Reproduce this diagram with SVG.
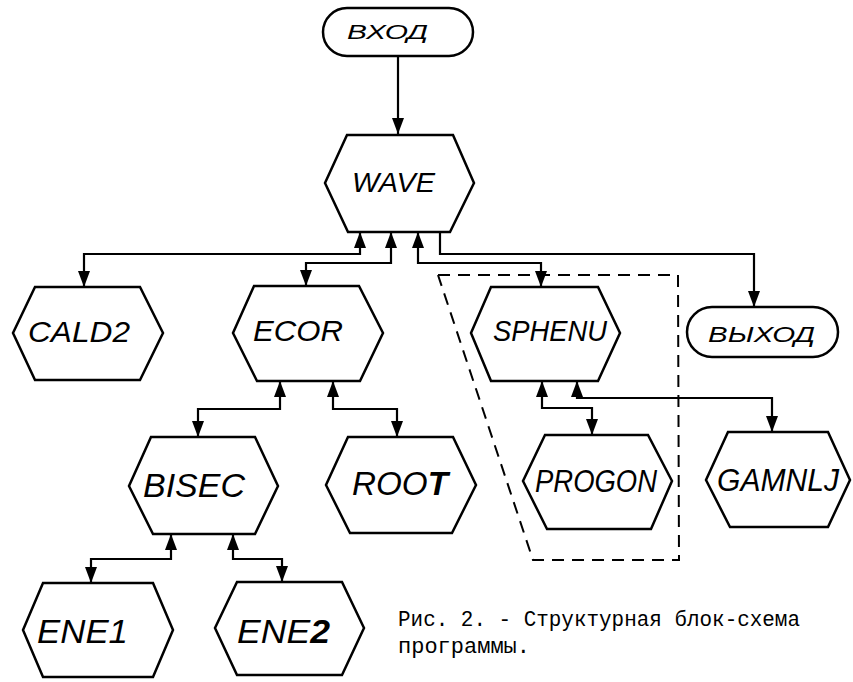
<svg xmlns="http://www.w3.org/2000/svg" width="853" height="682" viewBox="0 0 853 682">
<style>
.bg{fill:#fff}
.node polygon,.node rect{fill:#fff;stroke:#000;stroke-width:2.5;stroke-linejoin:miter}
.lbl{font-family:"Liberation Sans",Arial,sans-serif;font-style:italic;fill:#000}
.cap{font-family:"Liberation Mono","Courier New",monospace;fill:#000;font-size:22px}
#connectors path{fill:none;stroke:#000;stroke-width:2.2}
.arr{marker-start:url(#ah);marker-end:url(#ah)}
.one{marker-end:url(#ah)}
.dash{fill:none;stroke:#000;stroke-width:2;stroke-dasharray:12 8}
</style>
<defs>
<marker id="ah" markerUnits="userSpaceOnUse" viewBox="0 0 16 12" markerWidth="16" markerHeight="12" refX="16" refY="6" orient="auto-start-reverse">
<path d="M0,0 L16,6 L0,12 z" fill="#000"/>
</marker>
</defs>
<rect class="bg" x="0" y="0" width="853" height="682"/>
<path class="dash" d="M438,275 L678,275 L679,560 L533,560 L438,275"/>
<g id="connectors">
<path class="one" d="M398,56 V134"/>
<path class="arr" d="M360,232 V254 H84 V287"/>
<path class="arr" d="M391,232 V263 H306 V286"/>
<path class="arr" d="M418,232 V263 H541 V287"/>
<path class="one" d="M440,232 V254 H754 V307"/>
<path class="arr" d="M280,381 V409 H198 V437"/>
<path class="arr" d="M333,381 V409 H397 V437"/>
<path class="arr" d="M171,534 V559 H91 V583"/>
<path class="arr" d="M233,534 V559 H282 V582"/>
<path class="arr" d="M542,381 V408 H592 V435"/>
<path class="arr" d="M577,381 V398 H772 V432"/>
</g>
<g id="vhod" class="node"><rect x="323" y="8" width="150" height="48" rx="24"/><text class="lbl" x="347" y="39" font-size="20" textLength="81" lengthAdjust="spacingAndGlyphs">ВХОД</text></g>
<g id="wave" class="node"><polygon points="347,135 453,135 474,183 450,232 348,232 325,183"/><text class="lbl" x="352" y="192" font-size="28" textLength="83" lengthAdjust="spacingAndGlyphs">WAVE</text></g>
<g id="cald2" class="node"><polygon points="35,287 140,287 163,333 140,380 35,380 13,333"/><text class="lbl" x="28" y="342" font-size="29" textLength="102" lengthAdjust="spacingAndGlyphs">CALD2</text></g>
<g id="ecor" class="node"><polygon points="254,286 359,286 383,333 360,381 257,381 233,333"/><text class="lbl" x="253" y="341" font-size="30" textLength="90" lengthAdjust="spacingAndGlyphs">ECOR</text></g>
<g id="sphenu" class="node"><polygon points="491,287 598,287 620,333 598,381 491,381 471,333"/><text class="lbl" x="493" y="341" font-size="30" textLength="114" lengthAdjust="spacingAndGlyphs">SPHENU</text></g>
<g id="vyhod" class="node"><rect x="687" y="307" width="151" height="50" rx="25"/><text class="lbl" x="708" y="342" font-size="22" textLength="107" lengthAdjust="spacingAndGlyphs">ВЫХОД</text></g>
<g id="bisec" class="node"><polygon points="151,437 255,437 278,486 255,534 153,534 129,486"/><text class="lbl" x="143" y="497" font-size="33" textLength="102" lengthAdjust="spacingAndGlyphs">BISEC</text></g>
<g id="root" class="node"><polygon points="348,437 453,437 476,485 452,533 350,533 326,485"/><text class="lbl" x="352" y="495" font-size="34" textLength="96" lengthAdjust="spacingAndGlyphs">ROO<tspan font-weight="bold">T</tspan></text></g>
<g id="progon" class="node"><polygon points="545,435 648,435 672,481 651,529 547,529 523,481"/><text class="lbl" x="535" y="492" font-size="32" textLength="122" lengthAdjust="spacingAndGlyphs">PROGON</text></g>
<g id="gamnlj" class="node"><polygon points="728,432 828,432 850,480 828,527 730,527 706,480"/><text class="lbl" x="717" y="491" font-size="31" textLength="122" lengthAdjust="spacingAndGlyphs">GAMNLJ</text></g>
<g id="ene1" class="node"><polygon points="43,583 153,583 173,630 153,677 43,677 23,630"/><text class="lbl" x="37" y="643" font-size="34" textLength="91" lengthAdjust="spacingAndGlyphs">ENE1</text></g>
<g id="ene2" class="node"><polygon points="237,582 342,582 364,628 342,675 237,675 215,628"/><text class="lbl" x="237" y="643" font-size="34" textLength="93" lengthAdjust="spacingAndGlyphs">ENE<tspan font-weight="bold">2</tspan></text></g>
<text class="cap" x="398" y="626" textLength="402" lengthAdjust="spacingAndGlyphs">Рис. 2. - Структурная блок-схема</text>
<text class="cap" x="398" y="653" textLength="132" lengthAdjust="spacingAndGlyphs">программы.</text>
</svg>
